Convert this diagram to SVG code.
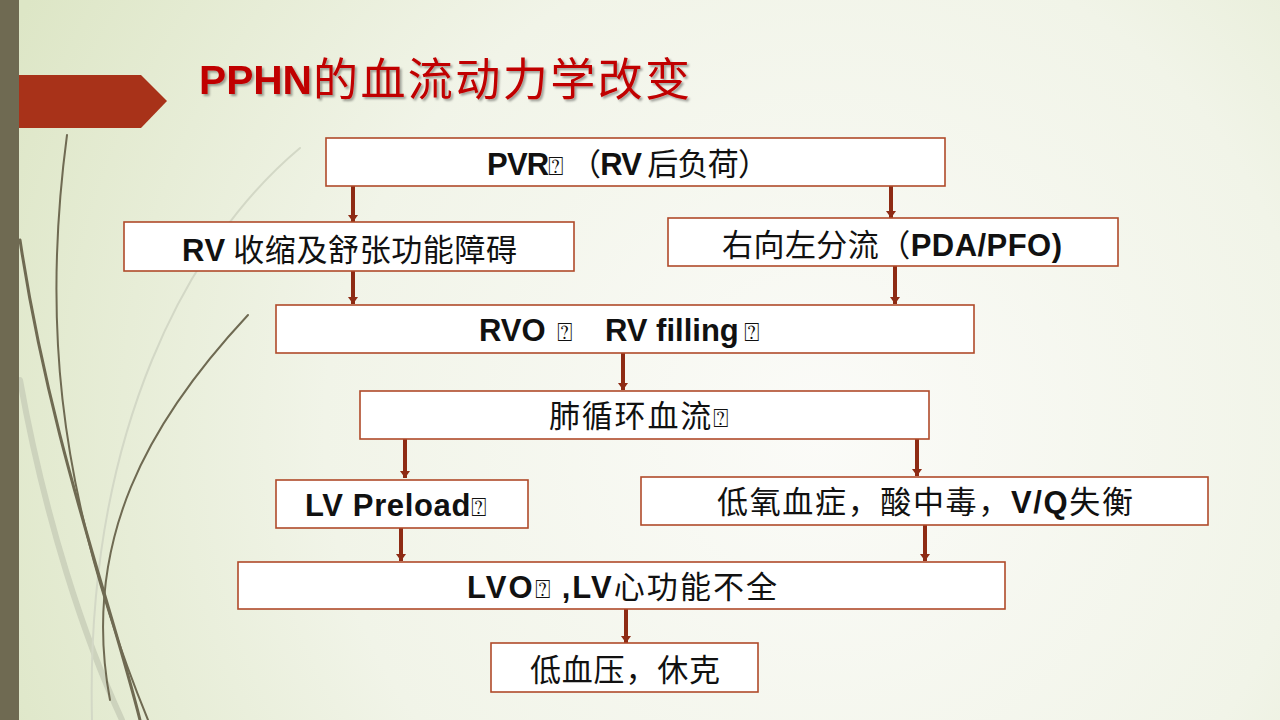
<svg xmlns="http://www.w3.org/2000/svg" width="1280" height="720" viewBox="0 0 1280 720">
<defs>
<radialGradient id="bg" cx="820" cy="430" r="900" gradientUnits="userSpaceOnUse">
<stop offset="0" stop-color="#fbfbf8"/>
<stop offset="0.55" stop-color="#f1f4e8"/>
<stop offset="1" stop-color="#dde6c6"/>
</radialGradient>
<filter id="sh" x="-5%" y="-20%" width="110%" height="150%">
<feDropShadow dx="2" dy="2" stdDeviation="1.2" flood-color="#000" flood-opacity="0.35"/>
</filter>
<marker id="ah" markerUnits="userSpaceOnUse" markerWidth="8" markerHeight="10" refX="7" refY="5" orient="auto" viewBox="0 0 8 10">
<path d="M0,0 L7,5 L0,10 Z" fill="#8e2b14"/>
</marker>
</defs>
<style>
.box{fill:#ffffff;stroke:#b04a2a;stroke-width:1.6}
.t{font-family:"Noto Sans CJK SC","Liberation Sans",sans-serif;fill:#111;font-size:31px}
.b{font-family:"Liberation Sans","Noto Sans CJK SC",sans-serif;font-weight:bold}
.q{font-family:"DejaVu Sans","Noto Sans",sans-serif;font-size:0.85em;font-weight:normal}
.con line{stroke:#8e2b14;stroke-width:4;marker-end:url(#ah)}
.deco{fill:none;stroke-linecap:round}
.ti{fill:#c00000;filter:url(#sh)}
</style>
<rect width="1280" height="720" fill="url(#bg)"/>
<g id="decor">
<path class="deco" d="M20 380 C45 520 85 640 122 720" stroke="#cdd3bd" stroke-width="6"/>
<path class="deco" d="M300 148 C190 240 85 430 92 720" stroke="#d3d8c6" stroke-width="2"/>
<path class="deco" d="M67 135 C45 300 50 480 148 720" stroke="#6f6a52" stroke-width="2"/>
<path class="deco" d="M20 240 C50 440 110 600 140 720" stroke="#6f6a52" stroke-width="3"/>
<path class="deco" d="M248 315 C150 420 80 540 110 700" stroke="#6f6a52" stroke-width="2"/>
<rect x="0" y="0" width="19" height="720" fill="#6f6a52"/>
<polygon points="19,75 141,75 167,101 141,128 19,128" fill="#a83219"/>
</g>
<g id="title">
<text class="ti" x="199" y="94" font-size="41" font-weight="bold" font-family="Liberation Sans,sans-serif" textLength="113" lengthAdjust="spacingAndGlyphs">PPHN</text>
<text class="ti" x="313" y="96" font-size="45" font-family="'Noto Sans CJK SC',sans-serif" textLength="377" lengthAdjust="spacing">的血流动力学改变</text>
</g>
<g class="con" id="connectors">
<line x1="353" y1="186" x2="353" y2="222"/>
<line x1="891" y1="183" x2="891" y2="218"/>
<line x1="353" y1="271" x2="353" y2="304"/>
<line x1="895" y1="266" x2="895" y2="304"/>
<line x1="623" y1="353" x2="623" y2="390"/>
<line x1="405" y1="439" x2="405" y2="478"/>
<line x1="917" y1="439" x2="917" y2="476"/>
<line x1="401" y1="528" x2="401" y2="561"/>
<line x1="925" y1="525" x2="925" y2="561"/>
<line x1="626" y1="609" x2="626" y2="643"/>
</g>
<g id="n1">
<rect class="box" x="326" y="138" width="619" height="48"/>
<text class="t" x="487" y="175" font-size="28" textLength="282"><tspan class="b">PVR</tspan><tspan class="q">⍰</tspan> （<tspan class="b">RV</tspan> 后负荷）</text>
</g>
<g id="n2">
<rect class="box" x="124" y="222" width="450" height="49"/>
<text class="t" x="182" y="261" textLength="335"><tspan class="b">RV</tspan> 收缩及舒张功能障碍</text>
</g>
<g id="n3">
<rect class="box" x="668" y="218" width="450" height="48"/>
<text class="t" x="722" y="256" textLength="340">右向左分流（<tspan class="b">PDA/PFO)</tspan></text>
</g>
<g id="n4">
<rect class="box" x="276" y="305" width="698" height="48"/>
<text class="t" x="479" y="341" font-size="30"><tspan class="b">RVO</tspan><tspan class="q" x="557">⍰</tspan><tspan class="b" x="605">RV filling</tspan><tspan class="q" x="744">⍰</tspan></text>
</g>
<g id="n5">
<rect class="box" x="360" y="391" width="569" height="48"/>
<text class="t" x="549" y="427" textLength="180">肺循环血流<tspan class="q">⍰</tspan></text>
</g>
<g id="n6">
<rect class="box" x="276" y="480" width="252" height="48"/>
<text class="t" x="305" y="516" font-size="28.5" textLength="182"><tspan class="b">LV Preload</tspan><tspan class="q">⍰</tspan></text>
</g>
<g id="n7">
<rect class="box" x="641" y="477" width="567" height="48"/>
<text class="t" x="717" y="513" textLength="416">低氧血症，酸中毒，<tspan class="b">V/Q</tspan>失衡</text>
</g>
<g id="n8">
<rect class="box" x="238" y="562" width="767" height="47"/>
<text class="t" x="467" y="598" font-size="30" textLength="310"><tspan class="b">LVO</tspan><tspan class="q">⍰</tspan> <tspan class="b">,LV</tspan>心功能不全</text>
</g>
<g id="n9">
<rect class="box" x="491" y="643" width="267" height="49"/>
<text class="t" x="530" y="681" textLength="190">低血压，休克</text>
</g>
</svg>
